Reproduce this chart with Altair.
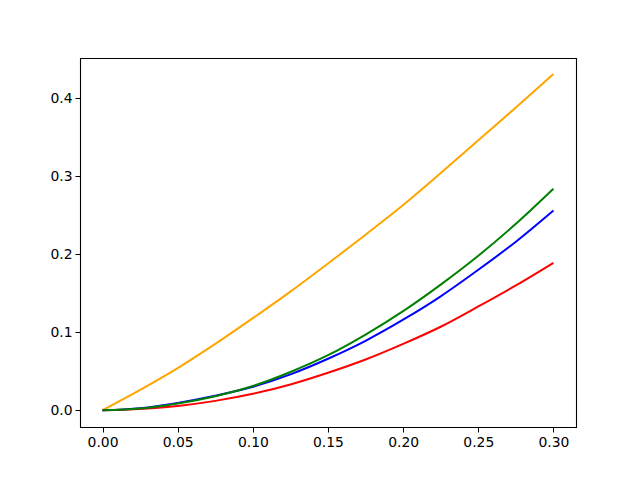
import altair as alt
import pandas as pd

x_vals = [0, 0.025, 0.05, 0.075, 0.1, 0.125, 0.15, 0.175, 0.2, 0.225, 0.25, 0.275, 0.3]
orange_vals = [0, 0.026, 0.054, 0.085, 0.118, 0.152, 0.188, 0.225, 0.263, 0.304, 0.346, 0.388, 0.431]
red_vals = [0, 0.0015, 0.0055, 0.012, 0.021, 0.033, 0.048, 0.065, 0.085, 0.107, 0.133, 0.160, 0.189]
blue_vals = [0, 0.0027, 0.0094, 0.0185, 0.030, 0.046, 0.066, 0.089, 0.116, 0.146, 0.180, 0.216, 0.256]
green_vals = [0, 0.0022, 0.0086, 0.018, 0.031, 0.049, 0.0705, 0.097, 0.127, 0.161, 0.198, 0.239, 0.284]

series = [("orange", orange_vals, "orange"), ("red", red_vals, "red"),
          ("blue", blue_vals, "blue"), ("green", green_vals, "green")]

W, H = 496, 369

xscale = alt.Scale(domain=[-0.015, 0.315], nice=False, zero=False)
yscale = alt.Scale(domain=[-0.0215, 0.4515], nice=False, zero=False)

xaxis = alt.Axis(values=[0, 0.05, 0.1, 0.15, 0.2, 0.25, 0.3], format=".2f", title=None,
                 grid=False, tickSize=5, labelPadding=3, domain=False,
                 labelFont="DejaVu Sans", labelFontSize=13.9, labelColor="black",
                 tickColor="black", tickWidth=1)
yaxis = alt.Axis(values=[0, 0.1, 0.2, 0.3, 0.4], format=".1f", title=None,
                 grid=False, tickSize=5, labelPadding=3, domain=False,
                 labelFont="DejaVu Sans", labelFontSize=13.9, labelColor="black",
                 tickColor="black", tickWidth=1)

layers = []
for name, vals, col in series:
    df = pd.DataFrame({"x": x_vals, "y": vals})
    layers.append(
        alt.Chart(df).mark_line(color=col, strokeWidth=2, interpolate="monotone").encode(
            x=alt.X("x:Q", scale=xscale, axis=xaxis),
            y=alt.Y("y:Q", scale=yscale, axis=yaxis),
        )
    )

frame = alt.Chart(pd.DataFrame({"f": [0]})).mark_rect(
    filled=False, stroke="black", strokeWidth=1.1
).encode(
    x=alt.value(0.5), x2=alt.value(W - 0.5 + 1),
    y=alt.value(0.5), y2=alt.value(H - 0.5 + 1),
)

chart = alt.layer(*layers, frame).properties(
    width=W, height=H,
    autosize=alt.AutoSizeParams(type="none"),
    padding={"left": 72, "top": 50, "right": 56, "bottom": 45},
    background="white",
).configure_view(strokeWidth=0)

chart.save("out.html", embed_options={"renderer": "svg", "actions": False})
